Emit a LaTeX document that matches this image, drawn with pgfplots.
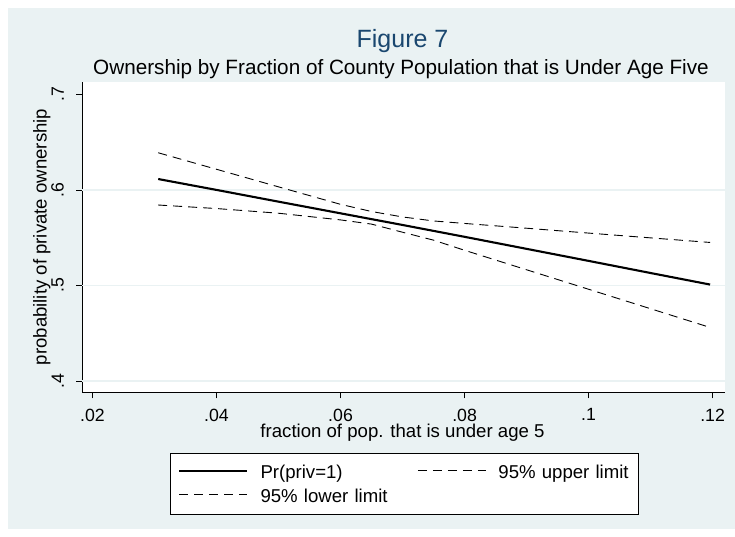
\documentclass[border=0pt]{standalone}
\usepackage{fontspec}
\setmainfont{Liberation Sans}
\usepackage{pgfplots}
\pgfplotsset{compat=1.18}

\definecolor{panel}{RGB}{234,242,243}
\definecolor{dknavy}{RGB}{26,71,111}
\newcommand\fs[1]{\fontsize{#1}{#1}\selectfont}

\begin{document}
\begin{tikzpicture}[x=1pt,y=1pt]
% outer page and graph region
\fill[white] (0,0) rectangle (735,537);
\fill[panel] (8,8) rectangle (735,529);

% titles
\node[anchor=base, font=\fs{25}, text=dknavy] at (402.5,489.7) {Figure 7};
\node[anchor=base, font=\fs{20.7}] at (401,462) {Ownership by Fraction of County Population that is Under Age Five};
% axis titles
\node[anchor=base, font=\fs{18.6}] at (402.5,99) {fraction of pop. that is under age 5};
\node[anchor=base, rotate=90, font=\fs{18.6}] at (46.5,300) {probability of private ownership};

\begin{axis}[
  at={(82pt,144.5pt)}, anchor=south west,
  scale only axis, width=643pt, height=310.5pt,
  xmin=0.018307, xmax=0.1220, ymin=0.3880, ymax=0.7131,
  axis lines*=left,
  axis line style={black, line width=0.8pt},
  axis background/.style={fill=white},
  tick align=outside, major tick length=6pt,
  tick style={black, line width=0.6pt},
  xtick={0.02,0.04,0.06,0.08,0.1,0.12},
  xticklabels={.02,.04,.06,.08,.1,.12},
  ytick={0.4,0.5,0.6,0.7},
  yticklabels={.4,.5,.6,.7},
  xticklabel style={font=\fs{17.7}, anchor=north, inner sep=0pt, yshift=-10pt},
  yticklabel style={font=\fs{17.7}, inner sep=0pt, xshift=-12pt, rotate=90, anchor=south},
  extra y ticks={0.4,0.5,0.6},
  extra y tick labels={},
  extra y tick style={ymajorgrids=true, major tick length=0pt,
    grid style={panel, line width=1.3pt}},
  legend columns=2,
  legend image code/.code={\draw[#1] (0pt,7.5pt) -- (68pt,7.5pt);},
  legend style={
    at={(axis description cs:0.1369,-0.1939)}, anchor=north west,
    draw=black, line width=0.8pt, fill=white,
    inner xsep=8pt, inner ysep=8pt, row sep=3pt, column sep=12pt,
    nodes={font=\fs{18.6}, text height=17pt, text depth=4pt, inner sep=0pt,
      anchor=base west, text width=132pt},
    /tikz/column 2/.style={nodes={text width=145pt}},
  },
]
% predicted probability
\addplot[black, line width=2.1pt] coordinates {
  (0.0306,0.6115) (0.04,0.6001) (0.05,0.5878) (0.06,0.5756) (0.07,0.5634)
  (0.08,0.5510) (0.09,0.5384) (0.10,0.5258) (0.11,0.5131) (0.1196,0.5010)
};
\addlegendentry{Pr(priv=1)}
% upper confidence bound
\addplot[black, line width=0.9pt, dash pattern=on 9pt off 6pt] coordinates {
  (0.0306,0.6390) (0.04,0.6217) (0.05,0.6033) (0.06,0.5850) (0.065,0.5775)
  (0.07,0.5718) (0.075,0.5676) (0.08,0.5650) (0.09,0.5600) (0.10,0.5549)
  (0.11,0.5499) (0.1196,0.5451)
};
\addlegendentry{95\% upper limit}
% lower confidence bound
\addplot[black, line width=0.9pt, dash pattern=on 9pt off 6pt] coordinates {
  (0.0306,0.5843) (0.04,0.5806) (0.05,0.5757) (0.06,0.5687) (0.065,0.5643)
  (0.07,0.5558) (0.075,0.5475) (0.08,0.5369) (0.09,0.5165) (0.10,0.4961)
  (0.11,0.4757) (0.1196,0.4561)
};
\addlegendentry{95\% lower limit}
\end{axis}
\end{tikzpicture}
\end{document}
